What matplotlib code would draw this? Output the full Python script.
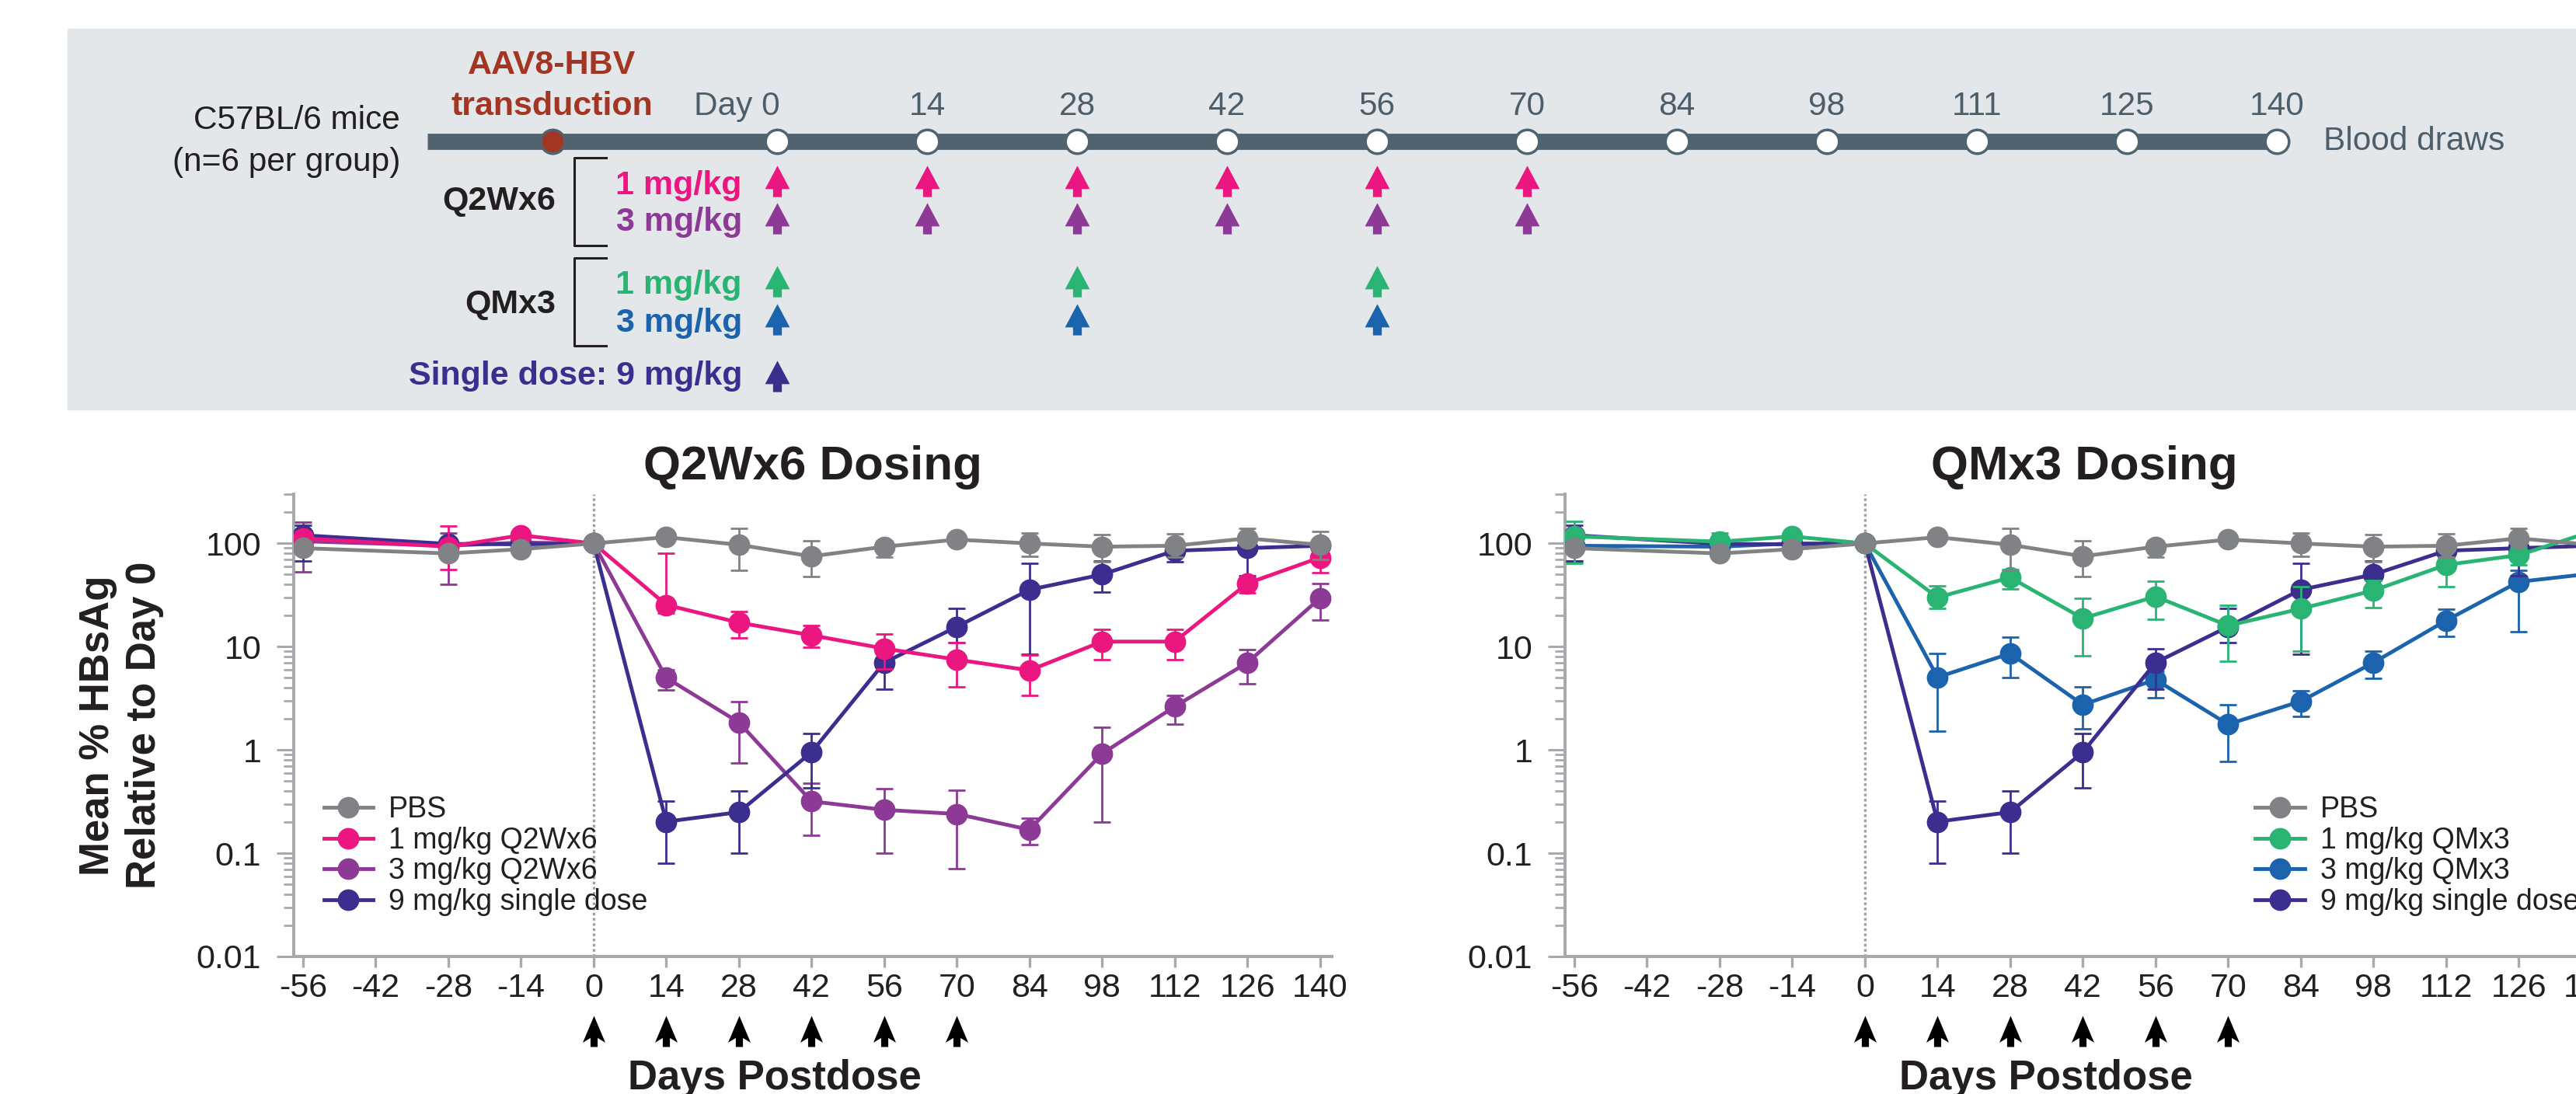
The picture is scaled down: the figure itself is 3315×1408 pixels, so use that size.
import numpy as np
import matplotlib
matplotlib.use('Agg')
import matplotlib.pyplot as plt
import matplotlib.transforms as mtransforms
from matplotlib.path import Path
from matplotlib.lines import Line2D
from matplotlib.patches import Rectangle
from matplotlib.ticker import LogLocator, NullFormatter

plt.rcParams['font.family'] = ['Liberation Sans', 'DejaVu Sans']

nan = np.nan

# ---- data ----
days = [-56, -28, -14, 0, 14, 28, 42, 56, 70, 84, 98, 112, 126, 140]
xticks = list(range(-56, 141, 14))
yticks = [0.01, 0.1, 1, 10, 100]
ytick_labels = ['0.01', '0.1', '1', '10', '100']
dose_days_axis = [0, 14, 28, 42, 56, 70]

pbs_mean = [90, 80, 88, 100, 115, 97, 75, 93, 109, 100, 93, 95, 112, 97]
pbs_hi = [nan, nan, nan, nan, nan, 141, 107, 106, nan, 126, 121, 123, 139, 131]
pbs_lo = [nan, nan, nan, nan, nan, 55, 48, 74, nan, 75, 67, 74, nan, 70]

q2w1_mean = [112, 93, 120, 100, 25.4, 17.1, 12.9, 9.6, 7.5, 5.9, 11.2, 11.2, 41, 73]
q2w1_hi = [130, 148, nan, nan, 80, 22, 16, 13.2, 10.9, 8.3, 14.6, 14.6, nan, 85]
q2w1_lo = [85, 56, nan, nan, 21, 12.1, 9.8, 6.1, 4.1, 3.4, 7.5, 7.5, 33, 52]

q2w3_mean = [105, 95, 102, 100, 5.0, 1.85, 0.318, 0.263, 0.24, 0.169, 0.92, 2.63, 7.0, 29.5]
q2w3_hi = [162, 126, nan, nan, 6.0, 2.96, 0.48, 0.42, 0.41, 0.218, 1.67, 3.4, 9.3, 41]
q2w3_lo = [53, 40, nan, nan, 3.8, 0.75, 0.15, 0.10, 0.071, 0.122, 0.20, 1.77, 4.4, 18]

single_mean = [120, 99, 98, 100, 0.202, 0.25, 0.95, 7.0, 15.6, 35.6, 50, 85, 90, 95]
single_hi = [150, nan, nan, nan, 0.32, 0.40, 1.45, 9.5, 23.3, 64.5, 68, 100, 125, nan]
single_lo = [68, nan, nan, nan, 0.08, 0.10, 0.43, 3.9, 10.9, 8.5, 34, 66, 49, nan]

qm1_mean = [117, 104, 117, 100, 30, 46.8, 18.8, 30.6, 16, 23.3, 35, 62, 77, 130]
qm1_hi = [163, 126, nan, nan, 39, 56, 29.5, 43, 25, 38, 44, 70, 93, nan]
qm1_lo = [64, nan, nan, nan, 23.3, 36, 8.1, 18.3, 7.2, 9.1, 24, 38, 62, nan]

qm3_mean = [95, 93, 100, 100, 5.06, 8.6, 2.74, 4.8, 1.77, 2.96, 7.0, 17.9, 42.5, 51]
qm3_hi = [nan, nan, nan, nan, 8.6, 12.3, 4.1, 5.8, 2.74, 3.74, 9.0, 23, 55, nan]
qm3_lo = [68, nan, nan, nan, 1.52, 5.0, 1.6, 3.2, 0.77, 2.1, 4.9, 12.6, 13.9, nan]

# study schematic
draw_days = [0, 14, 28, 42, 56, 70, 84, 98, 111, 125, 140]
q2w_days = [0, 14, 28, 42, 56, 70]
qm_days = [0, 28, 56]
single_days = [0]

# ---- colours ----
c_pbs = '#808285'
c_pink = '#ec1680'
c_purple = '#8d3a96'
c_indigo = '#3b2e8f'
c_green = '#29b473'
c_blue = '#1c63ad'
slate = '#51636f'
rust = '#a23622'
axc = '#a7a9ac'
dark = '#231f20'
tl_text = '#4d5e6b'

# arrow markers
up_arrow = Path([(0, 1), (0.79, -0.49), (0.28, -0.49), (0.28, -1), (-0.28, -1),
                 (-0.28, -0.49), (-0.79, -0.49), (0, 1)], closed=True)
black_arrow = Path([(0, 1), (0.725, -0.72), (0.23, -0.42), (0.23, -1), (-0.23, -1),
                    (-0.23, -0.42), (-0.725, -0.72), (0, 1)], closed=True)

W, H = 3315, 1408
fig = plt.figure(figsize=(W / 100, H / 100), dpi=100)

# ---- top schematic, pixel coordinates ----
tl = fig.add_axes([0, 0, 1, 1])
tl.set_xlim(0, W)
tl.set_ylim(H, 0)
tl.axis('off')
tl.add_patch(Rectangle((87, 37), W - 87, 490, color='#e4e7ea', zorder=0))

x0, step, bar_y = 1000, 193, 181.5
draw_x = [x0 + step * i for i in range(len(draw_days))]
tl.plot([x0 - 2.33 * step, draw_x[-1]], [bar_y, bar_y], color=slate, lw=15,
        solid_capstyle='butt', zorder=1)
tl.plot(draw_x, [bar_y] * len(draw_x), 'o', ms=22, mfc='white', mec=slate, mew=2.5, zorder=2)
tl.plot([x0 - 1.5 * step], [bar_y], 'o', ms=22, mfc=rust, mec=slate, mew=2.5, zorder=2)
for d, x in zip(draw_days, draw_x):
    if d == 0:
        tl.text(x + 4, 148, 'Day 0', ha='right', va='baseline', fontsize=30.5, color=tl_text)
    else:
        tl.text(x, 148, str(d), ha='center', va='baseline', fontsize=30.5, color=tl_text)
tl.text(draw_x[-1] + 60, 193, 'Blood draws', ha='left', va='baseline', fontsize=30.5, color=tl_text)

tl.text(515, 166, 'C57BL/6 mice', ha='right', va='baseline', fontsize=30.5, color=dark)
tl.text(515, 220, '(n=6 per group)', ha='right', va='baseline', fontsize=30.5, color=dark)
tl.text(x0 - 1.5 * step, 95, 'AAV8-HBV', ha='center', va='baseline', fontsize=31,
        fontweight='bold', color=rust)
tl.text(x0 - 1.5 * step, 148, 'transduction', ha='center', va='baseline', fontsize=31,
        fontweight='bold', color=rust)

# brackets + group names
for name, top, bot, base in [('Q2Wx6', 203, 316, 270), ('QMx3', 332, 445, 403)]:
    tl.plot([780, 739, 739, 780], [top, top, bot, bot], color=dark, lw=2.2)
    tl.text(715, base, name, ha='right', va='baseline', fontsize=31, fontweight='bold', color=dark)

rows = [('1 mg/kg', c_pink, q2w_days, 250, 233),
        ('3 mg/kg', c_purple, q2w_days, 297, 281),
        ('1 mg/kg', c_green, qm_days, 378, 362),
        ('3 mg/kg', c_blue, qm_days, 427, 411),
        ('Single dose: 9 mg/kg', c_indigo, single_days, 495, 484)]
for label, color, ddays, base, ay in rows:
    tl.text(955, base, label, ha='right', va='baseline', fontsize=31, fontweight='bold', color=color)
    ax_x = [draw_x[draw_days.index(d)] for d in ddays]
    tl.plot(ax_x, [ay] * len(ax_x), ls='none', marker=up_arrow, ms=29, mfc=color, mew=0)

# ---- line charts ----
ax_l = fig.add_axes([378 / W, 1 - 1231 / H, 1336 / W, 595 / H])
ax_r = fig.add_axes([2014 / W, 1 - 1231 / H, 1336 / W, 595 / H])

left_series = [
    ('3 mg/kg Q2Wx6', c_purple, q2w3_mean, q2w3_lo, q2w3_hi),
    ('9 mg/kg single dose', c_indigo, single_mean, single_lo, single_hi),
    ('1 mg/kg Q2Wx6', c_pink, q2w1_mean, q2w1_lo, q2w1_hi),
    ('PBS', c_pbs, pbs_mean, pbs_lo, pbs_hi),
]
right_series = [
    ('3 mg/kg QMx3', c_blue, qm3_mean, qm3_lo, qm3_hi),
    ('9 mg/kg single dose', c_indigo, single_mean, single_lo, single_hi),
    ('1 mg/kg QMx3', c_green, qm1_mean, qm1_lo, qm1_hi),
    ('PBS', c_pbs, pbs_mean, pbs_lo, pbs_hi),
]
legend_order_l = ['PBS', '1 mg/kg Q2Wx6', '3 mg/kg Q2Wx6', '9 mg/kg single dose']
legend_order_r = ['PBS', '1 mg/kg QMx3', '3 mg/kg QMx3', '9 mg/kg single dose']

for ax, series, title, order, lx in [(ax_l, left_series, 'Q2Wx6 Dosing', legend_order_l, 0.029),
                                      (ax_r, right_series, 'QMx3 Dosing', legend_order_r, 0.665)]:
    ax.set_facecolor('none')
    colors = {}
    for i, (name, color, mean, lo, hi) in enumerate(series):
        m = np.array(mean, dtype=float)
        err = [m - np.array(lo, dtype=float), np.array(hi, dtype=float) - m]
        ax.errorbar(days, m, yerr=err, color=color, lw=3.5, marker='o', ms=19,
                    capsize=8, elinewidth=2, capthick=2, zorder=3 + i)
        colors[name] = color
    ax.axvline(0, color='#9d9fa2', ls=(0, (1, 1)), lw=2.4, zorder=1)

    ax.set_yscale('log')
    ax.set_ylim(0.01, 300)
    ax.set_xlim(-57.8, 142.3)
    ax.set_yticks(yticks)
    ax.set_yticklabels(ytick_labels)
    ax.yaxis.set_minor_locator(LogLocator(base=10, subs=np.arange(2, 10)))
    ax.yaxis.set_minor_formatter(NullFormatter())
    ax.set_xticks(xticks)
    ax.set_xticklabels([str(t) for t in xticks])
    for s in ['top', 'right']:
        ax.spines[s].set_visible(False)
    for s in ['left', 'bottom']:
        ax.spines[s].set_color(axc)
        ax.spines[s].set_linewidth(2.9)
    ax.tick_params(axis='x', length=10, width=2.4, color=axc, labelsize=31, pad=5, labelcolor=dark)
    ax.tick_params(axis='y', which='major', length=16, width=2.2, color=axc, labelsize=31,
                   pad=14, labelcolor=dark)
    ax.tick_params(axis='y', which='minor', length=9.5, width=2, color=axc)

    ax.set_title(title, fontsize=44.5, fontweight='bold', pad=14, color=dark)
    ax.set_xlabel('Days Postdose', fontsize=38, fontweight='bold', color=dark)
    ax.xaxis.set_label_coords(0.463, -0.287)
    ax.xaxis.label.set_va('baseline')

    # dosing arrows under the x axis
    trans = mtransforms.blended_transform_factory(ax.transData, ax.transAxes)
    ax.plot(dose_days_axis, [-0.162] * len(dose_days_axis), ls='none', marker=black_arrow,
            ms=28.8, mfc='black', mew=0, transform=trans, clip_on=False)

    handles = [Line2D([], [], color=colors[n], lw=3.5, marker='o', ms=19) for n in order]
    ax.legend(handles, order, loc='upper left', bbox_to_anchor=(lx, 0.348), frameon=False,
              fontsize=27, handlelength=1.69, handletextpad=0.53, labelspacing=0.1,
              borderpad=0, borderaxespad=0, labelcolor=dark)

ax_l.set_ylabel('Mean % HBsAg\nRelative to Day 0', fontsize=38, fontweight='bold',
                linespacing=1.25, color=dark)
ax_l.yaxis.set_label_coords(-0.125, 0.5)

fig.savefig('out.png', dpi=100)
